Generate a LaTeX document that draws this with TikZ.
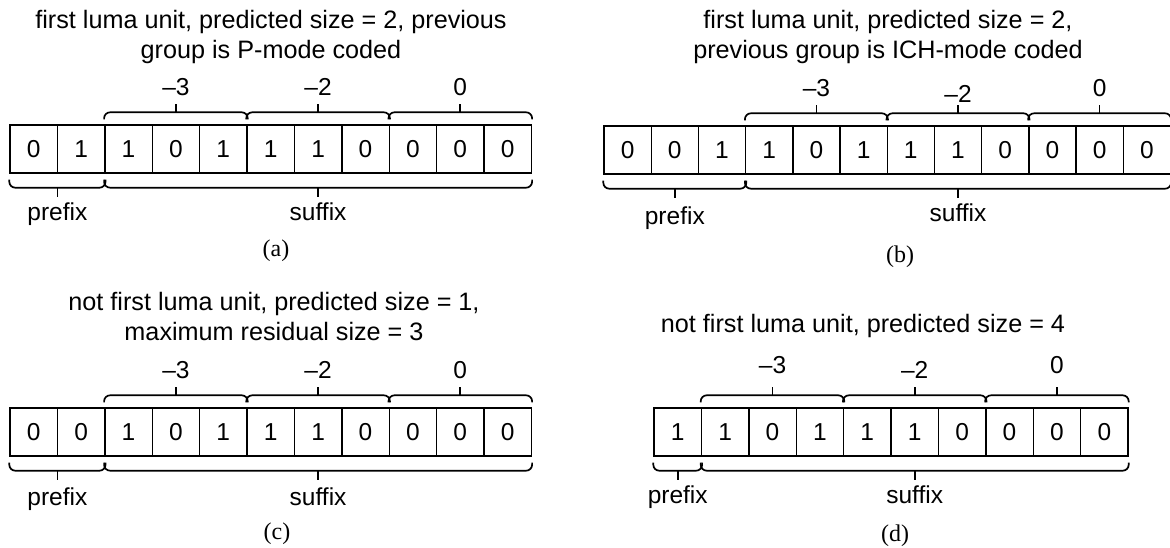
\documentclass[tikz,border=0pt]{standalone}
\usepackage{fontspec}
\setmainfont{Liberation Sans}
\newfontfamily\capfont{Liberation Serif}
\usetikzlibrary{calc}
\tikzset{
  cell/.style={draw, line width=1.4pt, minimum width=47.4pt, minimum height=48pt, inner sep=0pt, font=\fontsize{24.5}{29}\selectfont},
  brc/.style={line width=1.7pt, rounded corners=6pt},
  lbl/.style={anchor=base, inner sep=0pt, font=\fontsize{24.5}{29}\selectfont},
  ttl/.style={anchor=north, align=center, inner sep=0pt, font=\fontsize{25.2}{29.5}\selectfont},
  subcap/.style={anchor=base, inner sep=0pt, font=\capfont\fontsize{24}{29}\selectfont}}
% brace over / under a run of cells
\newcommand{\overbrc}[2]{%
  \draw[brc] ($(#1.north west)+(0,-5)$) |- ($(#2.north east)+(0,-12)$) -- ($(#2.north east)+(0,-5)$);
  \draw[brc] ($(#1.north west)!0.5!(#2.north east)+(0,-12)$) -- ++(0,-8);}
\newcommand{\underbrc}[2]{%
  \draw[brc] ($(#1.south west)+(0,6)$) |- ($(#2.south east)+(0,14)$) -- ($(#2.south east)+(0,6)$);
  \draw[brc] ($(#1.south west)!0.5!(#2.south east)+(0,14)$) -- ++(0,9);}
\begin{document}
\begin{tikzpicture}[x=1pt, y=-1pt]
  \useasboundingbox (0,0) rectangle (1170,548);
  % (a)
  \node[ttl] (ta) at (271,10.5) {first luma unit, predicted size = 2, previous\\group is P-mode coded};
  \foreach \b [count=\i] in {0,1,1,0,1,1,1,0,0,0,0}
    \node[cell] (a\i) at ({10+47.4*(\i-0.5)},149) {\b};
  \overbrc{a3}{a5} \overbrc{a6}{a8} \overbrc{a9}{a11}
  \underbrc{a1}{a2} \underbrc{a3}{a11}
  \node[lbl] (la1) at ($(a3)!0.5!(a5)+(0,-53)$) {--3};
  \node[lbl] (la2) at ($(a6)!0.5!(a8)+(0,-53)$) {--2};
  \node[lbl] (la3) at ($(a9)!0.5!(a11)+(0,-53)$) {0};
  \node[lbl] (pa) at ($(a1)!0.5!(a2)+(0,72)$) {prefix};
  \node[lbl] (sa) at ($(a3)!0.5!(a11)+(0,72)$) {suffix};
  \node[subcap] (ca) at (276,257) {(a)};
  % (b)
  \node[ttl] (tb) at (888,10.5) {first luma unit, predicted size = 2,\\previous group is ICH-mode coded};
  \foreach \b [count=\i] in {0,0,1,1,0,1,1,1,0,0,0,0}
    \node[cell, minimum width=47.2pt] (b\i) at ({604+47.2*(\i-0.5)},150) {\b};
  \overbrc{b4}{b6} \overbrc{b7}{b9} \overbrc{b10}{b12}
  \underbrc{b1}{b3} \underbrc{b4}{b12}
  \node[lbl] (lb1) at ($(b4)!0.5!(b6)+(0,-53)$) {--3};
  \node[lbl] (lb2) at ($(b7)!0.5!(b9)+(0,-47)$) {--2};
  \node[lbl] (lb3) at ($(b10)!0.5!(b12)+(0,-53)$) {0};
  \node[lbl] (pb) at ($(b1)!0.5!(b3)+(0,75)$) {prefix};
  \node[lbl] (sb) at ($(b4)!0.5!(b12)+(0,72)$) {suffix};
  \node[subcap] (cb) at (900,262) {(b)};
  % (c)
  \node[ttl] (tc) at (274,292.5) {not first luma unit, predicted size = 1,\\maximum residual size = 3};
  \foreach \b [count=\i] in {0,0,1,0,1,1,1,0,0,0,0}
    \node[cell] (c\i) at ({10+47.4*(\i-0.5)},432) {\b};
  \overbrc{c3}{c5} \overbrc{c6}{c8} \overbrc{c9}{c11}
  \underbrc{c1}{c2} \underbrc{c3}{c11}
  \node[lbl] (lc1) at ($(c3)!0.5!(c5)+(0,-54)$) {--3};
  \node[lbl] (lc2) at ($(c6)!0.5!(c8)+(0,-54)$) {--2};
  \node[lbl] (lc3) at ($(c9)!0.5!(c11)+(0,-54)$) {0};
  \node[lbl] (pc) at ($(c1)!0.5!(c2)+(0,73)$) {prefix};
  \node[lbl] (sc) at ($(c3)!0.5!(c11)+(0,73)$) {suffix};
  \node[subcap] (cc) at (277,539) {(c)};
  % (d)
  \node[lbl, font=\fontsize{25.2}{29.5}\selectfont] (td) at (863,332) {not first luma unit, predicted size = 4};
  \foreach \b [count=\i] in {1,1,0,1,1,1,0,0,0,0}
    \node[cell] (d\i) at ({654+47.4*(\i-0.5)},432) {\b};
  \overbrc{d2}{d4} \overbrc{d5}{d7} \overbrc{d8}{d10}
  \underbrc{d1}{d1} \underbrc{d2}{d10}
  \node[lbl] (ld1) at ($(d2)!0.5!(d4)+(0,-59)$) {--3};
  \node[lbl] (ld2) at ($(d5)!0.5!(d7)+(0,-54)$) {--2};
  \node[lbl] (ld3) at ($(d8)!0.5!(d10)+(0,-59)$) {0};
  \node[lbl] (pd) at ($(d1)+(0,71)$) {prefix};
  \node[lbl] (sd) at ($(d2)!0.5!(d10)+(0,71)$) {suffix};
  \node[subcap] (cd) at (895,541) {(d)};
\end{tikzpicture}
\end{document}
